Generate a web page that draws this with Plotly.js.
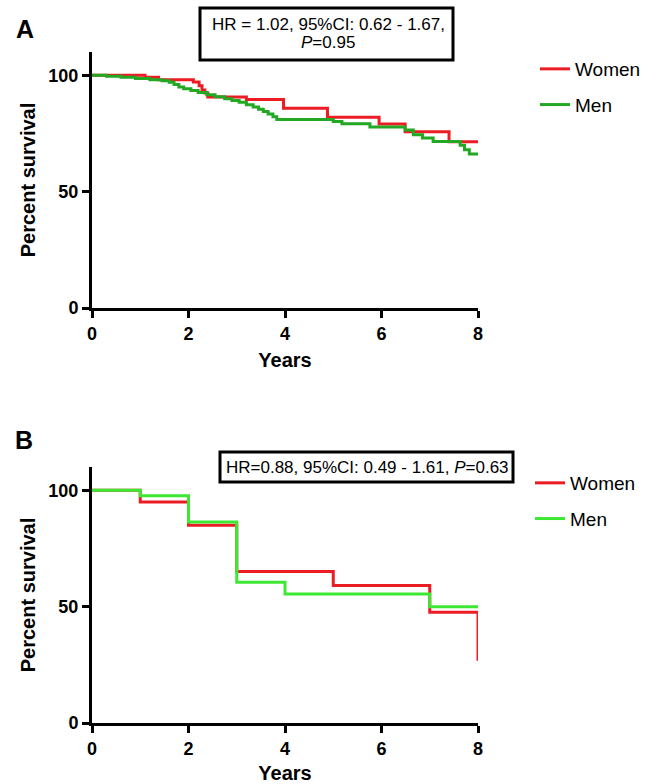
<!DOCTYPE html>
<html>
<head>
<meta charset="utf-8">
<script src="https://cdn.plot.ly/plotly-3.0.1.min.js"></script>
<style>
  html, body { margin: 0; padding: 0; background: #ffffff; }
  #chart { width: 656px; height: 784px; }
</style>
</head>
<body>
<div id="chart"></div>
<script>
// ---- Panel A data (Kaplan-Meier steps) ----
const womenA_years = [0, 1.1, 1.38, 2.1, 2.22, 2.28, 2.34, 2.4, 3.2, 3.97, 4.88, 5.95, 6.49, 7.4, 8];
const womenA_surv  = [100, 99.1, 98.1, 97.1, 95.5, 93.7, 92.4, 90.7, 89.6, 85.8, 82.0, 79.1, 75.7, 71.4, 71.4];
const menA_years = [0, 0.3, 0.6, 0.9, 1.2, 1.45, 1.6, 1.7, 1.8, 1.9, 2.05, 2.2, 2.38, 2.55, 2.75, 2.9, 3.05, 3.2, 3.34, 3.45, 3.55, 3.65, 3.75, 3.83, 5.0, 5.18, 5.76, 6.49, 6.66, 6.85, 7.07, 7.63, 7.72, 7.82, 8];
const menA_surv  = [100, 99.6, 99.1, 98.6, 98.1, 97.6, 97.0, 96.0, 95.0, 94.2, 93.5, 92.6, 91.6, 90.8, 89.9, 89.2, 88.4, 87.3, 86.4, 85.4, 84.4, 83.4, 82.2, 81.0, 80.1, 79.2, 77.8, 76.5, 74.4, 73.1, 71.5, 69.9, 68.0, 66.2, 66.2];

// ---- Panel B data ----
const womenB_years = [0, 1, 2, 3, 5, 7, 8];
const womenB_surv  = [100, 95.0, 85.0, 65.1, 59.1, 47.6, 26.7];
const menB_years = [0, 1, 2, 3, 4, 7, 8];
const menB_surv  = [100, 97.7, 86.4, 60.5, 55.4, 50.0, 50.0];

const xTicks = [0, 2, 4, 6, 8];
const yTicks = [0, 50, 100];
const seriesNames = ['Women', 'Men'];
const panelLabels = ['A', 'B'];
const statsA = ['HR = 1.02, 95%CI: 0.62 - 1.67,', '<i>P</i>=0.95'];
const statsB = 'HR=0.88, 95%CI: 0.49 - 1.61, <i>P</i>=0.63';

const RED = 'rgb(236,28,36)';
const GREEN_A = 'rgb(34,168,34)';
const GREEN_B = 'rgb(60,232,50)';
const FONT = 'Liberation Sans, Arial, sans-serif';

const W = 656, H = 784;
const px = v => v / W;          // pixel x -> paper
const py = v => 1 - v / H;      // pixel y -> paper

const traces = [
  {x: womenA_years, y: womenA_surv, name: seriesNames[0], type: 'scatter', mode: 'lines',
   line: {color: RED, width: 3, shape: 'hv'}, xaxis: 'x', yaxis: 'y', legend: 'legend', legendgroup: 'wA'},
  {x: menA_years, y: menA_surv, name: seriesNames[1], type: 'scatter', mode: 'lines',
   line: {color: GREEN_A, width: 3, shape: 'hv'}, xaxis: 'x', yaxis: 'y', legend: 'legend', legendgroup: 'mA'},
  {x: womenB_years, y: womenB_surv, name: seriesNames[0], type: 'scatter', mode: 'lines',
   line: {color: RED, width: 3, shape: 'hv'}, xaxis: 'x2', yaxis: 'y2', legend: 'legend2', legendgroup: 'wB'},
  {x: menB_years, y: menB_surv, name: seriesNames[1], type: 'scatter', mode: 'lines',
   line: {color: GREEN_B, width: 3, shape: 'hv'}, xaxis: 'x2', yaxis: 'y2', legend: 'legend2', legendgroup: 'mB'}
];

function xAxis(domainAnchor) {
  return {
    domain: [px(92), px(478)], anchor: domainAnchor, range: [0, 8],
    tickmode: 'array', tickvals: xTicks, ticktext: xTicks.map(String),
    showline: true, linecolor: '#000', linewidth: 3, mirror: false,
    ticks: 'outside', ticklen: 7, tickwidth: 3, tickcolor: '#000',
    showgrid: false, zeroline: false, fixedrange: true,
    tickfont: {family: FONT, size: 18, color: '#000', weight: 'bold'},
    title: {text: 'Years', font: {family: FONT, size: 20, color: '#000', weight: 'bold'}, standoff: 11},
    automargin: false
  };
}
function yAxis(domain, anchor) {
  return {
    domain: domain, anchor: anchor, range: [0, 110],
    tickmode: 'array', tickvals: yTicks, ticktext: yTicks.map(String),
    showline: true, linecolor: '#000', linewidth: 3,
    ticks: 'outside', ticklen: 7, tickwidth: 3, tickcolor: '#000',
    showgrid: false, zeroline: false, fixedrange: true,
    tickfont: {family: FONT, size: 18, color: '#000', weight: 'bold'},
    title: {text: 'Percent survival', font: {family: FONT, size: 20, color: '#000', weight: 'bold'}, standoff: 8},
    automargin: false
  };
}

const legendBase = {
  xanchor: 'left', yanchor: 'top', bgcolor: 'rgba(0,0,0,0)', borderwidth: 0,
  font: {family: FONT, size: 19, color: '#000'}, itemwidth: 30,
  traceorder: 'grouped', tracegroupgap: 8
};

const layout = {
  width: W, height: H,
  margin: {l: 0, r: 0, t: 0, b: 0},
  paper_bgcolor: '#fff', plot_bgcolor: '#fff',
  showlegend: true,
  xaxis: xAxis('y'),
  yaxis: yAxis([py(308), py(52)], 'x'),
  xaxis2: xAxis('y2'),
  yaxis2: yAxis([py(723), py(467)], 'x2'),
  legend: Object.assign({}, legendBase, {x: px(535), y: py(50)}),
  legend2: Object.assign({}, legendBase, {x: px(530), y: py(464)}),
  shapes: [
    {type: 'rect', xref: 'paper', yref: 'paper', x0: px(200), x1: px(453), y0: py(60), y1: py(8),
     line: {color: '#000', width: 3}, fillcolor: 'rgba(0,0,0,0)'},
    {type: 'rect', xref: 'paper', yref: 'paper', x0: px(220), x1: px(513), y0: py(482), y1: py(452),
     line: {color: '#000', width: 3}, fillcolor: 'rgba(0,0,0,0)'}
  ],
  annotations: [
    {xref: 'paper', yref: 'paper', x: px(25), y: py(29), text: panelLabels[0], showarrow: false,
     xanchor: 'center', yanchor: 'middle', font: {family: FONT, size: 25, color: '#000', weight: 'bold'}},
    {xref: 'paper', yref: 'paper', x: px(24), y: py(440), text: panelLabels[1], showarrow: false,
     xanchor: 'center', yanchor: 'middle', font: {family: FONT, size: 25, color: '#000', weight: 'bold'}},
    {xref: 'paper', yref: 'paper', x: px(328), y: py(25), text: statsA[0], showarrow: false,
     xanchor: 'center', yanchor: 'middle', font: {family: FONT, size: 17, color: '#000'}},
    {xref: 'paper', yref: 'paper', x: px(328), y: py(43), text: statsA[1], showarrow: false,
     xanchor: 'center', yanchor: 'middle', font: {family: FONT, size: 17, color: '#000'}},
    {xref: 'paper', yref: 'paper', x: px(367), y: py(467), text: statsB, showarrow: false,
     xanchor: 'center', yanchor: 'middle', font: {family: FONT, size: 17, color: '#000'}}
  ]
};

Plotly.newPlot('chart', traces, layout, {displayModeBar: false, staticPlot: true});
</script>
</body>
</html>
